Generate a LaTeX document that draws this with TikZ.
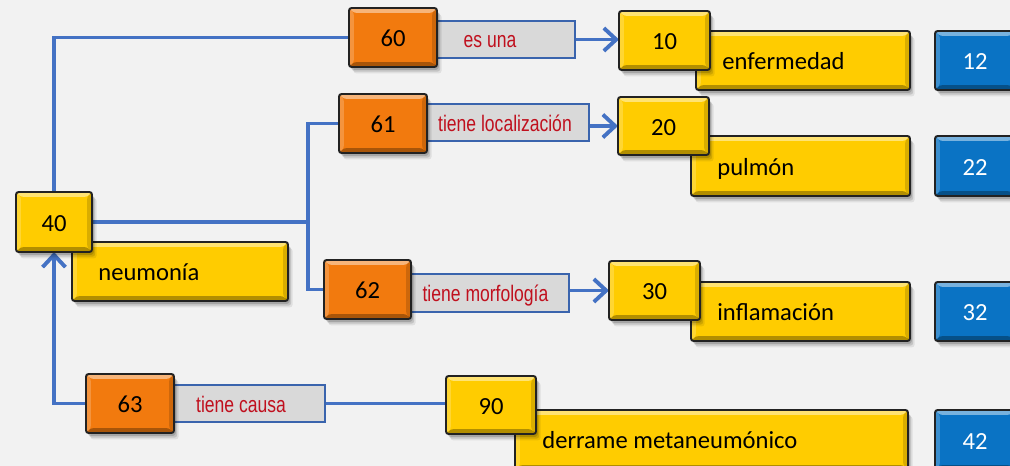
\documentclass[tikz,border=0pt]{standalone}
\usepackage{fontspec}
\setmainfont{Carlito}
\newfontfamily\lblfont[FakeStretch=0.78]{Liberation Sans}
\usetikzlibrary{arrows.meta}
\definecolor{bg}{HTML}{F2F2F2}
\definecolor{yel}{HTML}{FFCC00}
\definecolor{org}{HTML}{F27A0E}
\definecolor{blu}{HTML}{0A73C4}
\definecolor{lineblue}{HTML}{4472C4}
\definecolor{lblfill}{HTML}{D9D9D9}
\definecolor{lblline}{HTML}{3A64AD}
\definecolor{lblred}{HTML}{C0101E}
\definecolor{boxline}{HTML}{222222}
\pgfdeclarelayer{bgl}
\pgfsetlayers{bgl,main}
\newcommand\bvw{2.8pt}
\tikzset{
  sz/.style 2 args={minimum width=#1*0.02cm, minimum height=#2*0.02cm},
  bev/.style={path picture={
    \coordinate (NW) at (path picture bounding box.north west);
    \coordinate (NE) at (path picture bounding box.north east);
    \coordinate (SW) at (path picture bounding box.south west);
    \coordinate (SE) at (path picture bounding box.south east);
    \fill[white,opacity=.45] (NW) -- (NE) -- ([shift={(-\bvw,-\bvw)}]NE) -- ([shift={(\bvw,-\bvw)}]NW) -- cycle;
    \fill[white,opacity=.2] (NW) -- ([shift={(\bvw,-\bvw)}]NW) -- ([shift={(\bvw,\bvw)}]SW) -- (SW) -- cycle;
    \fill[black,opacity=.15] (NE) -- (SE) -- ([shift={(-\bvw,\bvw)}]SE) -- ([shift={(-\bvw,-\bvw)}]NE) -- cycle;
    \fill[black,opacity=.3] (SW) -- ([shift={(\bvw,\bvw)}]SW) -- ([shift={(-\bvw,\bvw)}]SE) -- (SE) -- cycle;
  }},
  shd/.style={
    preaction={fill=black, opacity=.08, draw=none, transform canvas={shift={(2.6pt,-3.6pt)}}},
    preaction={fill=black, opacity=.12, draw=none, transform canvas={shift={(1.8pt,-2.6pt)}}},
    preaction={fill=black, opacity=.15, draw=none, transform canvas={shift={(1pt,-1.6pt)}}}},
  bx/.style={draw=boxline, line width=1.1pt, rounded corners=1.5pt, inner sep=0pt, outer sep=0pt,
    shd, bev, font=\fontsize{14}{16}\selectfont, text height=11pt, text depth=0.2pt},
  ybx/.style={bx, fill=yel},
  obx/.style={bx, fill=org},
  bbx/.style={bx, fill=blu, text=white},
  lbl/.style={draw=lblline, line width=1pt, fill=lblfill, inner sep=0pt, outer sep=0pt},
  lbltxt/.style={font=\lblfont\fontsize{12.8}{14}\selectfont, text=lblred, anchor=base, inner sep=0pt},
  ltxt/.style={font=\fontsize{14}{16}\selectfont, anchor=base west, inner sep=0pt},
  conn/.style={draw=lineblue, line width=2.2pt},
  arr/.style={conn, -{Straight Barb[length=7pt,width=13pt]}}
}
\begin{document}
\begin{tikzpicture}[x=0.02cm,y=-0.02cm]
\useasboundingbox (0,0) rectangle (1010,466);
\clip (0,0) rectangle (1010,466);
\begin{pgfonlayer}{bgl}
\fill[bg] (0,0) rectangle (1010,466);
\end{pgfonlayer}

% long concept boxes
\node[ybx, sz={216}{59}] (neu) at (180,271.5) {};
\node[ybx, sz={214}{59}] (enf) at (803,60.5) {};
\node[ybx, sz={219}{60}] (pul) at (800.5,166) {};
\node[ybx, sz={219}{59}] (inf) at (800.5,311.5) {};
\node[ybx, sz={393}{60}] (der) at (711.5,440) {};
\node[ltxt] (tneu) at ([shift={(26,9)}]neu.west) {neumonía};
\node[ltxt] (tenf) at ([shift={(26,9)}]enf.west) {enfermedad};
\node[ltxt] (tpul) at ([shift={(26,9)}]pul.west) {pulmón};
\node[ltxt] (tinf) at ([shift={(26,9)}]inf.west) {inflamación};
\node[ltxt] (tder) at ([shift={(27,8)}]der.west) {derrame metaneumónico};

% blue code boxes
\node[bbx, sz={80}{59}] (b12) at (975,60.5) {12};
\node[bbx, sz={80}{60}] (b22) at (975,166) {22};
\node[bbx, sz={80}{59}] (b32) at (975,311.5) {32};
\node[bbx, sz={80}{60}] (b42) at (975,440) {42};

% label boxes
\node[lbl, sz={138}{37}] (l60) at (506,39.5) {};
\node[lbl, sz={162}{37}] (l61) at (508,122.5) {};
\node[lbl, sz={158}{38}] (l62) at (490,293) {};
\node[lbl, sz={151}{37}] (l63) at (249.5,403.5) {};
\node[lbltxt] (t60) at (490,47.7) {es una};
\node[lbltxt] (t61) at (505,131.7) {tiene localización};
\node[lbltxt] (t62) at (485.5,301) {tiene morfología};
\node[lbltxt] (t63) at (241,412.7) {tiene causa};

% number boxes
\node[ybx, sz={76}{60}] (n40) at (54,222) {40};
\node[ybx, sz={91}{59}] (n10) at (664.5,40.5) {10};
\node[ybx, sz={91}{58}] (n20) at (663.5,126) {20};
\node[ybx, sz={91}{59}] (n30) at (654.5,290.5) {30};
\node[ybx, sz={90}{58}] (n90) at (491,405) {90};
\node[obx, sz={88}{59}] (n60) at (393,37.5) {60};
\node[obx, sz={88}{59}] (n61) at (383,123.5) {61};
\node[obx, sz={87}{59}] (n62) at (367.5,289.5) {62};
\node[obx, sz={88}{59}] (n63) at (130,403.5) {63};

\coordinate (j) at (308,222);

\begin{pgfonlayer}{bgl}
\draw[conn] (n40.north) |- (n60.west);
\draw[conn] (n40.east) -- (j) |- (n61.west);
\draw[conn] (j) |- (n62.west);
\draw[arr] (n63.west) -| (n40.south);
\draw[arr] (l60.east) -- (l60.east -| n10.west);
\draw[arr] (l61.east |- n20.west) -- (n20.west);
\draw[arr] (l62.east |- n30.west) -- (n30.west);
\draw[conn] (l63.east) -- (l63.east -| n90.west);
\end{pgfonlayer}
\end{tikzpicture}
\end{document}
